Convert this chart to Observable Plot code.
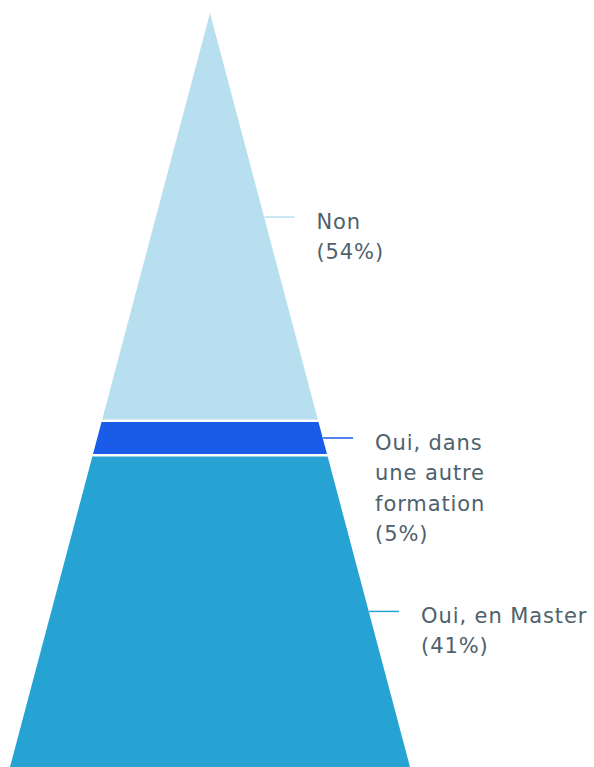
<!DOCTYPE html>
<html><head><meta charset="utf-8">
<script src="https://cdn.jsdelivr.net/npm/d3@7"></script>
<script src="https://cdn.jsdelivr.net/npm/@observablehq/plot@0.6"></script>
<style>body{margin:0;background:#fff}</style>
</head><body><div id="chart"></div>
<script>
const categories = ["Oui, en Master", "Oui, dans une autre formation", "Non"];
const values = [41.4, 4.6, 54];
const labels = ["Oui, en Master\n(41%)", "Oui, dans\nune autre\nformation\n(5%)", "Non\n(54%)"];
const colors = ["#27a3d3", "#1a5ce8", "#b8dff0"];

let acc = 0;
const bands = categories.map((c, i) => {
  const y1 = acc; acc += values[i];
  return {category: c, y1, y2: acc, mid: (y1 + acc) / 2, label: labels[i]};
});
const total = acc;
const half = v => total - v;
const areaPts = bands.flatMap(b => [
  {category: b.category, y: b.y1, x1: -half(b.y1), x2: half(b.y1)},
  {category: b.category, y: b.y2, x1: -half(b.y2), x2: half(b.y2)}
]);

const chart = Plot.plot({
  width: 594,
  height: 767,
  marginLeft: 10,
  marginRight: 184,
  marginTop: 13,
  marginBottom: 0,
  x: {domain: [-total, total], axis: null},
  y: {domain: [0, total], axis: null},
  color: {domain: categories, range: colors},
  style: {background: "#fff", letterSpacing: "0.9px"},
  marks: [
    Plot.areaX(areaPts, {y: "y", x1: "x1", x2: "x2", fill: "category", z: "category"}),
    Plot.ruleY(bands.slice(0, -1), {y: "y2", x1: d => -half(d.y2) - 5, x2: d => half(d.y2) + 5, stroke: "white", strokeWidth: 2.5}),
    Plot.link(bands, {x1: d => half(d.mid), x2: d => half(d.mid) + 15, y1: "mid", y2: "mid", stroke: "category", strokeWidth: 1.5}),
    Plot.text(bands, {x: d => half(d.mid) + 15, y: "mid", text: "label", dx: 22, dy: -10, textAnchor: "start", lineAnchor: "top", fontSize: 21, lineHeight: 1.45, fill: "#4e616c", fontFamily: "DejaVu Sans"})
  ]
});
document.getElementById("chart").append(chart);
</script>
</body></html>
